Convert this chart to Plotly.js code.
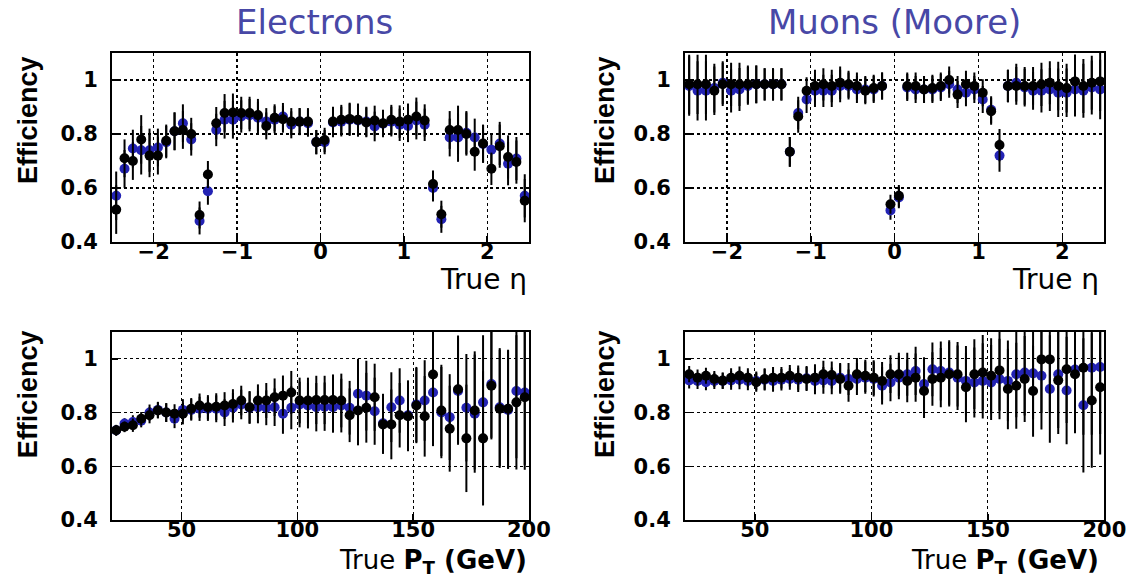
<!DOCTYPE html>
<html><head><meta charset="utf-8">
<script src="https://cdn.plot.ly/plotly-3.0.1.min.js"></script>
<style>html,body{margin:0;padding:0;background:#fff;}#plot{width:1135px;height:577px;}</style>
</head><body><div id="plot"></div>
<script>
// ---- data ----
const etaCenters = [-2.45,-2.35,-2.25,-2.15,-2.05,-1.95,-1.85,-1.75,-1.65,-1.55,-1.45,-1.35,-1.25,-1.15,-1.05,-0.95,-0.85,-0.75,-0.65,-0.55,-0.45,-0.35,-0.25,-0.15,-0.05,0.05,0.15,0.25,0.35,0.45,0.55,0.65,0.75,0.85,0.95,1.05,1.15,1.25,1.35,1.45,1.55,1.65,1.75,1.85,1.95,2.05,2.15,2.25,2.35,2.45];
const ptCenters = [21.8,25.4,29,32.6,36.2,39.8,43.4,47,50.6,54.2,57.8,61.4,65,68.6,72.2,75.8,79.4,83,86.6,90.2,93.8,97.4,101,104.6,108.2,111.8,115.4,119,122.6,126.2,129.8,133.4,137,140.6,144.2,147.8,151.4,155,158.6,162.2,165.8,169.4,173,176.6,180.2,183.8,187.4,191,194.6,198.2];

const elEtaBlack = [0.52,0.71,0.70,0.78,0.72,0.72,0.775,0.81,0.815,0.80,0.50,0.65,0.84,0.878,0.88,0.878,0.878,0.87,0.83,0.86,0.855,0.846,0.846,0.846,0.77,0.778,0.846,0.853,0.856,0.853,0.843,0.85,0.84,0.853,0.846,0.853,0.865,0.85,0.615,0.503,0.815,0.815,0.80,0.734,0.765,0.671,0.755,0.715,0.696,0.553];
const elEtaBlue  = [0.571,0.671,0.746,0.74,0.74,0.75,0.77,0.81,0.84,0.78,0.478,0.588,0.815,0.853,0.853,0.865,0.87,0.86,0.846,0.853,0.865,0.834,0.846,0.84,0.77,0.77,0.843,0.846,0.853,0.85,0.846,0.828,0.838,0.846,0.834,0.83,0.85,0.834,0.60,0.484,0.787,0.787,0.805,0.787,0.763,0.742,0.765,0.69,0.709,0.571];
const elEtaErr   = [0.09,0.07,0.07,0.09,0.08,0.07,0.06,0.07,0.07,0.06,0.05,0.05,0.06,0.07,0.07,0.06,0.06,0.06,0.05,0.05,0.05,0.05,0.05,0.05,0.045,0.045,0.055,0.055,0.06,0.06,0.055,0.055,0.05,0.055,0.06,0.06,0.07,0.06,0.05,0.05,0.07,0.09,0.08,0.07,0.07,0.06,0.08,0.08,0.08,0.08];

const muEtaBlack = [0.984,0.984,0.984,0.96,0.984,0.984,0.984,0.984,0.984,0.984,0.984,0.984,0.734,0.865,0.96,0.978,0.984,0.978,0.99,0.984,0.978,0.96,0.97,0.978,0.54,0.571,0.978,0.978,0.965,0.97,0.978,1.0,0.946,0.984,0.978,0.953,0.884,0.759,0.978,0.978,0.978,0.978,0.984,0.99,0.978,0.97,0.995,0.978,0.99,0.995];
const muEtaBlue  = [0.978,0.96,0.96,0.97,0.99,0.96,0.965,0.978,0.984,0.984,0.984,0.984,0.734,0.878,0.928,0.96,0.96,0.96,0.978,0.978,0.965,0.965,0.965,0.978,0.517,0.565,0.972,0.965,0.965,0.965,0.972,0.984,0.965,0.953,0.965,0.928,0.89,0.72,0.978,0.99,0.972,0.96,0.96,0.965,0.953,0.953,0.965,0.96,0.972,0.965];
const muEtaErr   = [0.11,0.11,0.11,0.09,0.08,0.08,0.08,0.07,0.07,0.06,0.06,0.06,0.055,0.06,0.05,0.06,0.06,0.06,0.06,0.05,0.05,0.05,0.05,0.05,0.035,0.04,0.05,0.05,0.05,0.05,0.05,0.05,0.05,0.05,0.05,0.05,0.05,0.06,0.06,0.07,0.07,0.07,0.08,0.08,0.09,0.09,0.1,0.1,0.1,0.11];

const elPtBlack = [0.734,0.747,0.753,0.777,0.79,0.808,0.80,0.796,0.796,0.814,0.826,0.82,0.822,0.826,0.832,0.845,0.82,0.845,0.845,0.857,0.863,0.875,0.845,0.845,0.847,0.847,0.847,0.845,0.79,0.808,0.818,0.857,0.756,0.756,0.79,0.786,0.826,0.786,0.942,0.808,0.74,0.887,0.704,0.808,0.704,0.90,0.814,0.814,0.838,0.857];
const elPtBlue  = [0.734,0.759,0.765,0.77,0.80,0.81,0.80,0.777,0.81,0.81,0.814,0.814,0.814,0.80,0.818,0.83,0.818,0.82,0.818,0.82,0.796,0.818,0.83,0.826,0.82,0.822,0.82,0.826,0.818,0.87,0.863,0.805,0.76,0.82,0.845,0.79,0.83,0.845,0.875,0.80,0.783,0.88,0.818,0.796,0.838,0.906,0.82,0.81,0.88,0.875];
const elPtErr   = [0.02,0.02,0.025,0.025,0.03,0.03,0.035,0.035,0.04,0.04,0.045,0.045,0.05,0.05,0.055,0.055,0.06,0.06,0.065,0.07,0.075,0.08,0.085,0.085,0.09,0.09,0.095,0.1,0.1,0.13,0.13,0.125,0.11,0.13,0.12,0.13,0.14,0.15,0.2,0.17,0.16,0.2,0.2,0.22,0.25,0.2,0.22,0.22,0.25,0.27];

const muPtBlack = [0.943,0.93,0.937,0.925,0.919,0.93,0.937,0.93,0.913,0.925,0.93,0.93,0.937,0.93,0.925,0.93,0.943,0.94,0.925,0.90,0.943,0.937,0.93,0.918,0.943,0.943,0.918,0.93,0.88,0.925,0.93,0.943,0.943,0.894,0.943,0.949,0.937,0.957,0.888,0.90,0.925,0.88,0.998,0.998,0.92,0.961,0.943,0.967,0.845,0.894];
const muPtBlue  = [0.92,0.918,0.913,0.918,0.918,0.92,0.922,0.918,0.918,0.922,0.918,0.922,0.925,0.922,0.928,0.918,0.92,0.918,0.93,0.925,0.925,0.93,0.925,0.90,0.912,0.93,0.943,0.955,0.906,0.961,0.955,0.949,0.93,0.918,0.912,0.918,0.912,0.925,0.918,0.943,0.949,0.946,0.937,0.888,0.943,0.882,0.96,0.827,0.967,0.97];
const muPtErr   = [0.03,0.03,0.03,0.03,0.03,0.035,0.035,0.035,0.035,0.04,0.04,0.04,0.04,0.045,0.045,0.05,0.05,0.05,0.055,0.06,0.06,0.06,0.065,0.07,0.07,0.08,0.08,0.09,0.1,0.1,0.11,0.12,0.12,0.13,0.13,0.14,0.14,0.15,0.15,0.16,0.16,0.17,0.2,0.2,0.2,0.2,0.22,0.25,0.25,0.25];

const panelTitles = ['Electrons', 'Muons (Moore)'];
const etaTicks = [-2, -1, 0, 1, 2];
const ptTicks = [50, 100, 150, 200];
const effTicks = [0.4, 0.6, 0.8, 1];
const effTickText = ['0.4', '0.6', '0.8', '1'];

// ---- styles ----
const BLUE = '#2323b4';
const BLACK = '#000000';

function series(x, y, err, halfBin, color, xa, ya) {
  return {
    type: 'scatter', mode: 'markers', x: x, y: y, xaxis: xa, yaxis: ya,
    cliponaxis: true, showlegend: false, hoverinfo: 'skip',
    marker: {symbol: 'circle', size: 10, color: color, line: {width: 0}},
    error_x: {type: 'constant', value: halfBin, thickness: 3, width: 0, color: color},
    error_y: {type: 'data', array: err, thickness: 2, width: 0, color: BLACK}
  };
}

const traces = [
  series(etaCenters, elEtaBlue, elEtaErr, 0.05, BLUE, 'x', 'y'),
  series(etaCenters, elEtaBlack, elEtaErr, 0.05, BLACK, 'x', 'y'),
  series(etaCenters, muEtaBlue, muEtaErr, 0.05, BLUE, 'x2', 'y2'),
  series(etaCenters, muEtaBlack, muEtaErr, 0.05, BLACK, 'x2', 'y2'),
  series(ptCenters, elPtBlue, elPtErr, 1.8, BLUE, 'x3', 'y3'),
  series(ptCenters, elPtBlack, elPtErr, 1.8, BLACK, 'x3', 'y3'),
  series(ptCenters, muPtBlue, muPtErr, 1.8, BLUE, 'x4', 'y4'),
  series(ptCenters, muPtBlack, muPtErr, 1.8, BLACK, 'x4', 'y4')
];

const tickFont = {family: 'DejaVu Sans', size: 21, color: '#000', weight: 'bold'};
function xax(domain, anchor, range, ticks) {
  return {domain: domain, anchor: anchor, range: range, tickvals: ticks,
    showgrid: true, gridcolor: '#000', griddash: 'dot', gridwidth: 1.2,
    showline: true, mirror: true, linecolor: '#000', linewidth: 2, zeroline: false,
    ticks: 'inside', ticklen: 6, tickcolor: '#000', tickwidth: 1.5,
    tickfont: tickFont, ticklabelstandoff: -10, fixedrange: true};
}
function yax(domain, anchor) {
  return {domain: domain, anchor: anchor, range: [0.4, 1.1], tickvals: effTicks, ticktext: effTickText,
    showgrid: true, gridcolor: '#000', griddash: 'dot', gridwidth: 1.2,
    showline: true, mirror: true, linecolor: '#000', linewidth: 2, zeroline: false,
    ticks: 'inside', ticklen: 6, tickcolor: '#000', tickwidth: 1.5,
    tickfont: tickFont, ticklabelstandoff: 8, fixedrange: true};
}

const L = [0.0987, 0.466], R = [0.6035, 0.973];
const T = [0.5806, 0.9081], B = [0.0988, 0.4246];

const titleFont = {family: 'DejaVu Sans', size: 34, color: '#4848a6'};
const effFont = {family: 'Liberation Sans', size: 27, color: '#000', weight: 'bold'};
const axFont = {family: 'DejaVu Sans', size: 28, color: '#000'};
const ptFont = {family: 'DejaVu Sans', size: 26, color: '#000'};

function ann(text, x, y, xanchor, font, angle) {
  return {text: text, x: x, y: y, xref: 'paper', yref: 'paper', xanchor: xanchor, yanchor: 'middle',
          textangle: angle || 0, showarrow: false, font: font};
}
const annotations = [
  ann(panelTitles[0], 0.2767, 0.962, 'center', titleFont),
  ann(panelTitles[1], 0.7877, 0.962, 'center', titleFont),
  ann('Efficiency', 0.0247, 0.792, 'center', effFont, -90),
  ann('Efficiency', 0.533, 0.792, 'center', effFont, -90),
  ann('Efficiency', 0.0247, 0.317, 'center', effFont, -90),
  ann('Efficiency', 0.533, 0.317, 'center', effFont, -90),
  ann('True η', 0.466, 0.516, 'right', axFont),
  ann('True η', 0.970, 0.516, 'right', axFont),
  ann('True <b>P<sub>T</sub> (GeV)</b>', 0.466, 0.026, 'right', ptFont),
  ann('True <b>P<sub>T</sub> (GeV)</b>', 0.970, 0.026, 'right', ptFont)
];

const layout = {
  width: 1135, height: 577, margin: {l: 0, r: 0, t: 0, b: 0},
  paper_bgcolor: '#fff', plot_bgcolor: '#fff', showlegend: false,
  xaxis: xax(L, 'y', [-2.5, 2.5], etaTicks),
  yaxis: yax(T, 'x'),
  xaxis2: xax(R, 'y2', [-2.5, 2.5], etaTicks),
  yaxis2: yax(T, 'x2'),
  xaxis3: xax(L, 'y3', [20, 200], ptTicks),
  yaxis3: yax(B, 'x3'),
  xaxis4: xax(R, 'y4', [20, 200], ptTicks),
  yaxis4: yax(B, 'x4'),
  annotations: annotations
};

Plotly.newPlot('plot', traces, layout, {staticPlot: true, displayModeBar: false});
</script>
</body></html>
